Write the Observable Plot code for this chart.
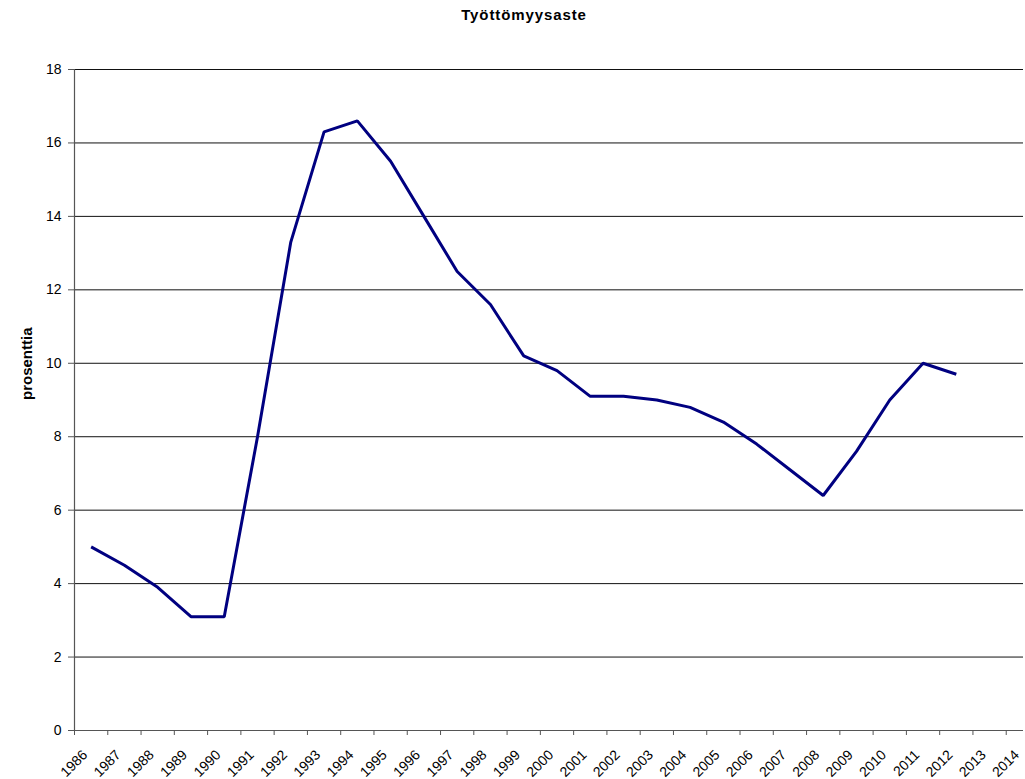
<!DOCTYPE html>
<html>
<head>
<meta charset="utf-8">
<script src="https://cdn.jsdelivr.net/npm/d3@7"></script>
<script src="https://cdn.jsdelivr.net/npm/@observablehq/plot@0.6"></script>
<style>
  html, body { margin: 0; padding: 0; background: #fff; }
  #wrap { position: relative; width: 1025px; height: 779px; font-family: "Liberation Sans", Arial, sans-serif; }
  #title { position: absolute; top: 6px; left: 0; width: 1048px; text-align: center; font-size: 15px; letter-spacing: 0.9px; line-height: 18px; font-weight: bold; color: #000; }
  #chart { position: absolute; top: 0; left: 0; }
</style>
</head>
<body>
<div id="wrap">
  <div id="chart"></div>
  <div id="title">Työttömyysaste</div>
</div>
<script>
const titleText = "Työttömyysaste";
const yLabel = "prosenttia";
const years = [1986,1987,1988,1989,1990,1991,1992,1993,1994,1995,1996,1997,1998,1999,2000,2001,2002,2003,2004,2005,2006,2007,2008,2009,2010,2011,2012,2013,2014];
const dataYears = [1986,1987,1988,1989,1990,1991,1992,1993,1994,1995,1996,1997,1998,1999,2000,2001,2002,2003,2004,2005,2006,2007,2008,2009,2010,2011,2012];
const rates = [5.0,4.5,3.9,3.1,3.1,8.0,13.3,16.3,16.6,15.5,14.0,12.5,11.6,10.2,9.8,9.1,9.1,9.0,8.8,8.4,7.8,7.1,6.4,7.6,9.0,10.0,9.7];
const yTicks = [0,2,4,6,8,10,12,14,16,18];

const series = dataYears.map((yr, i) => ({year: yr, value: rates[i]}));
const boundaries = years.map(y => y - 0.5);

const font = "Liberation Sans, Arial, sans-serif";

const chart = Plot.plot({
  width: 1025,
  height: 779,
  marginTop: 69,
  marginBottom: 49,
  marginLeft: 74,
  marginRight: 2,
  style: {fontFamily: font, fontSize: "14px", color: "#000", background: "#fff", overflow: "visible"},
  x: {type: "linear", domain: [1985.5, 2014.5], range: [74, 1039], axis: null},
  y: {domain: [0, 18], axis: null},
  marks: [
    Plot.gridY(yTicks, {stroke: "#111", strokeOpacity: 1, strokeWidth: 1}),
    Plot.ruleY([0], {stroke: "#555", strokeWidth: 1.2}),
    Plot.ruleX([1985.5], {y1: 0, y2: 18, stroke: "#555", strokeWidth: 1.2}),
    Plot.axisY({ticks: yTicks, tickSize: 6, tickPadding: 7, stroke: "#555", fontSize: 14, label: null}),
    Plot.axisX({ticks: boundaries, tickSize: 5, tickFormat: () => "", stroke: "#555", label: null}),
    Plot.axisX({ticks: years, tickSize: 0, tickPadding: 0, tickRotate: -45, tickFormat: d => String(d), textAnchor: "end", lineAnchor: "middle", dx: -6, dy: 22, fontSize: 14, fill: "#000", label: null}),
    Plot.text([yLabel], {frameAnchor: "left", rotate: -90, dx: -47, lineAnchor: "middle", fontWeight: "bold", fontSize: 15, fill: "#000"}),
    Plot.line(series, {x: "year", y: "value", stroke: "#000080", strokeWidth: 3, strokeLinejoin: "miter", strokeLinecap: "butt"})
  ]
});
document.getElementById("chart").appendChild(chart);
document.getElementById("title").textContent = titleText;
</script>
</body>
</html>
